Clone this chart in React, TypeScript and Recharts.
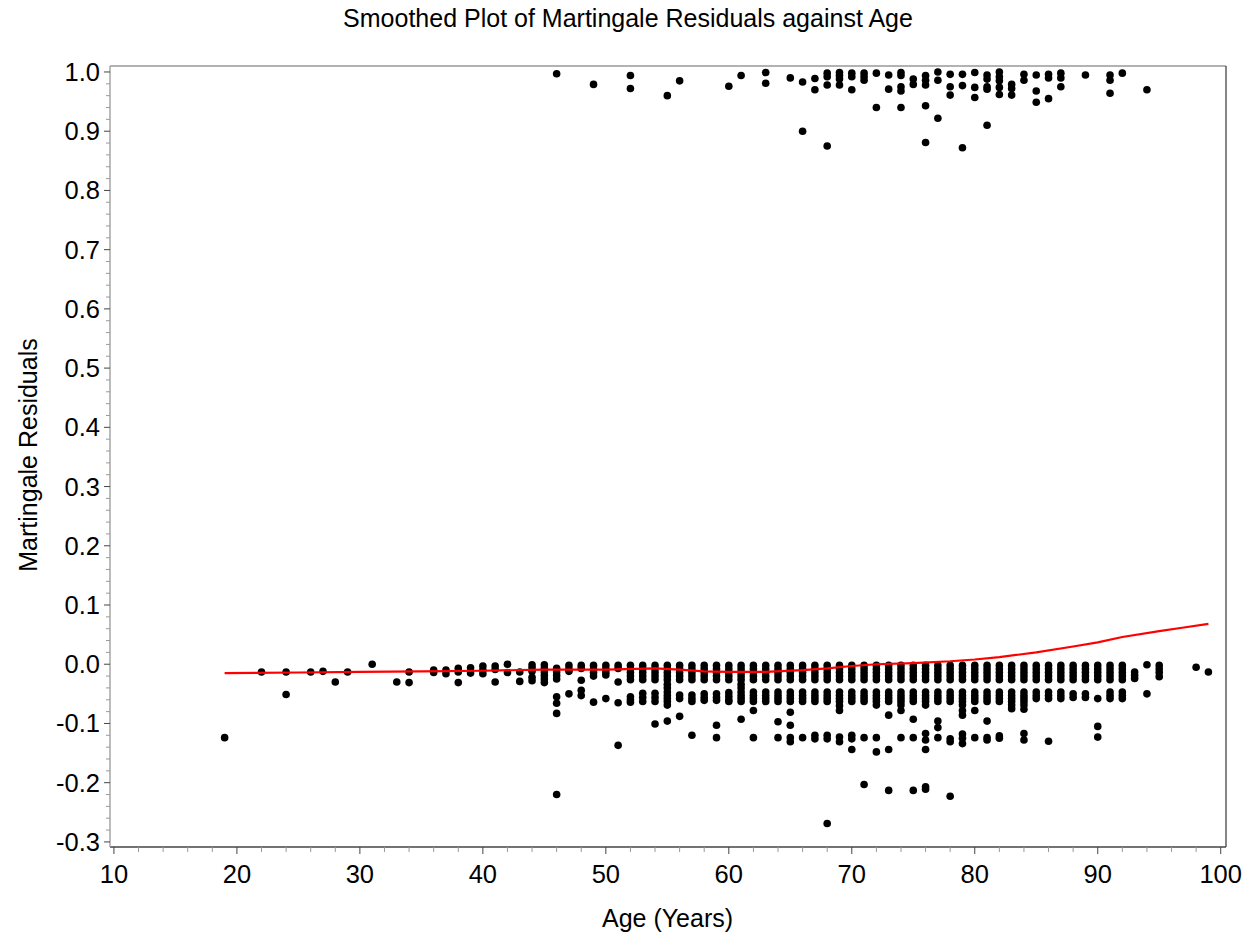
import React from 'react';
import { ScatterChart, Scatter, XAxis, YAxis } from 'recharts';

// ---- data ----
const DENSE_TOP = [-0.002, -0.008, -0.014, -0.020, -0.026];
const DENSE_MID = [-0.047, -0.053, -0.058, -0.063];
const DENSE_BRIDGE = [-0.034, -0.040];

// residuals near zero / negative, by age
const lowerBand: [number, number[]][] = [
  [19, [-0.124]],
  [22, [-0.013]],
  [24, [-0.013, -0.051]],
  [26, [-0.013]],
  [27, [-0.012]],
  [28, [-0.030]],
  [29, [-0.013]],
  [31, [0.0]],
  [33, [-0.030]],
  [34, [-0.013, -0.031]],
  [36, [-0.010, -0.014]],
  [37, [-0.010, -0.016]],
  [38, [-0.007, -0.013, -0.031]],
  [39, [-0.006, -0.015]],
  [40, [-0.003, -0.010, -0.016]],
  [41, [-0.003, -0.009, -0.030]],
  [42, [0.0, -0.014]],
  [43, [-0.013, -0.029]],
  [44, [-0.001, -0.006, -0.012, -0.022, -0.028]],
  [45, [-0.001, -0.007, -0.013, -0.019, -0.025, -0.031]],
  [46, [-0.007, -0.013, -0.019, -0.025, -0.055, -0.066, -0.083, -0.220]],
  [47, [-0.002, -0.008, -0.012, -0.050]],
  [48, [-0.002, -0.007, -0.027, -0.044, -0.053]],
  [49, [-0.002, -0.008, -0.014, -0.020, -0.064]],
  [50, [-0.002, -0.008, -0.013, -0.018, -0.058]],
  [51, [-0.002, -0.007, -0.030, -0.065, -0.137]],
  [52, [...DENSE_TOP, -0.055, -0.060, -0.064]],
  [53, [...DENSE_TOP, -0.049, -0.056, -0.063]],
  [54, [...DENSE_TOP, -0.049, -0.056, -0.063, -0.101]],
  [55, [...DENSE_TOP, ...DENSE_BRIDGE, ...DENSE_MID, -0.069, -0.096]],
  [56, [...DENSE_TOP, -0.052, -0.058, -0.088]],
  [57, [...DENSE_TOP, -0.052, -0.058, -0.063, -0.120]],
  [58, [...DENSE_TOP, -0.050, -0.056, -0.061]],
  [59, [...DENSE_TOP, -0.050, -0.056, -0.061, -0.103, -0.124]],
  [60, [...DENSE_TOP, -0.048, -0.054, -0.060, -0.063]],
  [61, [...DENSE_TOP, ...DENSE_BRIDGE, ...DENSE_MID, -0.093]],
  [62, [...DENSE_TOP, ...DENSE_MID, -0.078, -0.124]],
  [63, [...DENSE_TOP, ...DENSE_MID]],
  [64, [...DENSE_TOP, ...DENSE_MID, -0.097, -0.124]],
  [65, [...DENSE_TOP, ...DENSE_MID, -0.081, -0.103, -0.124, -0.131]],
  [66, [...DENSE_TOP, ...DENSE_MID, -0.124]],
  [67, [...DENSE_TOP, ...DENSE_MID, -0.120, -0.126]],
  [68, [...DENSE_TOP, ...DENSE_MID, -0.120, -0.126, -0.269]],
  [69, [...DENSE_TOP, ...DENSE_MID, -0.070, -0.078, -0.123, -0.131]],
  [70, [...DENSE_TOP, ...DENSE_MID, -0.120, -0.126, -0.144]],
  [71, [...DENSE_TOP, ...DENSE_MID, -0.124, -0.203]],
  [72, [...DENSE_TOP, ...DENSE_MID, -0.069, -0.124, -0.148]],
  [73, [...DENSE_TOP, ...DENSE_MID, -0.086, -0.144, -0.213]],
  [74, [...DENSE_TOP, ...DENSE_MID, -0.069, -0.078, -0.124]],
  [75, [...DENSE_TOP, ...DENSE_MID, -0.093, -0.124, -0.213]],
  [76, [...DENSE_TOP, ...DENSE_MID, -0.069, -0.117, -0.128, -0.144, -0.207, -0.211]],
  [77, [...DENSE_TOP, ...DENSE_MID, -0.096, -0.107, -0.124]],
  [78, [...DENSE_TOP, ...DENSE_MID, -0.126, -0.131, -0.223]],
  [79, [...DENSE_TOP, ...DENSE_MID, -0.069, -0.078, -0.086, -0.118, -0.125, -0.134]],
  [80, [...DENSE_TOP, ...DENSE_MID, -0.078, -0.124]],
  [81, [...DENSE_TOP, ...DENSE_MID, -0.096, -0.124, -0.128]],
  [82, [...DENSE_TOP, ...DENSE_MID, -0.121, -0.125]],
  [83, [...DENSE_TOP, ...DENSE_MID, -0.069, -0.075]],
  [84, [...DENSE_TOP, ...DENSE_MID, -0.069, -0.076, -0.117, -0.128]],
  [85, [...DENSE_TOP, -0.047, -0.053, -0.058]],
  [86, [...DENSE_TOP, -0.047, -0.053, -0.058, -0.130]],
  [87, [...DENSE_TOP, -0.047, -0.053, -0.058]],
  [88, [...DENSE_TOP, -0.050, -0.056]],
  [89, [...DENSE_TOP, -0.050, -0.056]],
  [90, [...DENSE_TOP, -0.058, -0.105, -0.123]],
  [91, [...DENSE_TOP, -0.047, -0.053, -0.058]],
  [92, [...DENSE_TOP, -0.047, -0.053, -0.058]],
  [93, [-0.013, -0.019, -0.024]],
  [94, [-0.001, -0.050]],
  [95, [-0.002, -0.008, -0.014, -0.021]],
  [98, [-0.005]],
  [99, [-0.013]],
];

// residuals near one, by age
const upperBand: [number, number[]][] = [
  [46, [0.997]],
  [49, [0.979]],
  [52, [0.994, 0.972]],
  [55, [0.960]],
  [56, [0.985]],
  [60, [0.976]],
  [61, [0.994]],
  [63, [0.999, 0.981]],
  [65, [0.990]],
  [66, [0.983, 0.900]],
  [67, [0.989, 0.970]],
  [68, [0.998, 0.992, 0.978, 0.875]],
  [69, [0.999, 0.994, 0.988, 0.978]],
  [70, [0.998, 0.992, 0.970]],
  [71, [0.998, 0.992, 0.986]],
  [72, [0.998, 0.940]],
  [73, [0.995, 0.971]],
  [74, [0.999, 0.994, 0.975, 0.968, 0.940]],
  [75, [0.988, 0.979]],
  [76, [0.994, 0.986, 0.978, 0.943, 0.881]],
  [77, [1.0, 0.986, 0.922]],
  [78, [0.996, 0.975, 0.961]],
  [79, [0.996, 0.977, 0.872]],
  [80, [0.999, 0.974, 0.957]],
  [81, [0.995, 0.988, 0.975, 0.971, 0.910]],
  [82, [1.0, 0.992, 0.985, 0.974, 0.962]],
  [83, [0.979, 0.972, 0.961]],
  [84, [0.996, 0.986]],
  [85, [0.995, 0.968, 0.949]],
  [86, [0.996, 0.990, 0.955]],
  [87, [0.998, 0.990, 0.975]],
  [89, [0.995]],
  [91, [0.995, 0.986, 0.964]],
  [92, [0.998]],
  [94, [0.970]],
];

// loess smooth (age, fitted residual)
const smoothAges = [19, 25, 30, 35, 40, 45, 50, 54, 56, 58, 60, 63, 66, 68, 70, 72, 75, 78, 80, 82, 85, 88, 90, 92, 95, 97, 99];
const smoothValues = [-0.015, -0.014, -0.013, -0.012, -0.011, -0.009, -0.009, -0.007, -0.009, -0.012, -0.013, -0.013, -0.010, -0.007, -0.003, 0.0, 0.002, 0.005, 0.008, 0.012, 0.020, 0.030, 0.037, 0.046, 0.056, 0.062, 0.068];

const xTickValues = [10, 12, 14, 16, 18, 20, 22, 24, 26, 28, 30, 32, 34, 36, 38, 40, 42, 44, 46, 48, 50, 52, 54, 56, 58, 60, 62, 64, 66, 68, 70, 72, 74, 76, 78, 80, 82, 84, 86, 88, 90, 92, 94, 96, 98, 100];
const yTickHundredths = [-30, -28, -26, -24, -22, -20, -18, -16, -14, -12, -10, -8, -6, -4, -2, 0, 2, 4, 6, 8, 10, 12, 14, 16, 18, 20, 22, 24, 26, 28, 30, 32, 34, 36, 38, 40, 42, 44, 46, 48, 50, 52, 54, 56, 58, 60, 62, 64, 66, 68, 70, 72, 74, 76, 78, 80, 82, 84, 86, 88, 90, 92, 94, 96, 98, 100];

const TITLE = 'Smoothed Plot of Martingale Residuals against Age';
const X_LABEL = 'Age (Years)';
const Y_LABEL = 'Martingale Residuals';

// ---- derived tables ----
const points = [...lowerBand, ...upperBand].flatMap(([age, rs]) => rs.map((r) => ({ x: age, y: r })));
const smoothLine = smoothAges.map((a, i) => ({ x: a, y: smoothValues[i] }));
const yTicks = yTickHundredths.map((h) => h / 100);

const FONT = '"Liberation Sans", Arial, Helvetica, sans-serif';
const TICK_FONT = 25.5;

const XTick = (props: any) => {
  const { x, y, payload } = props;
  const v = Math.round(payload.value);
  const major = v % 10 === 0;
  return (
    <g>
      <line x1={x} x2={x} y1={y} y2={y + (major ? 7 : 5)} stroke={major ? '#444' : '#999'} strokeWidth={1} />
      {major && (
        <text x={x} y={y + 36} textAnchor="middle" fontSize={TICK_FONT} fontFamily={FONT} fill="#000">
          {v}
        </text>
      )}
    </g>
  );
};

const YTick = (props: any) => {
  const { x, y, payload } = props;
  const h = Math.round(payload.value * 100);
  const major = h % 10 === 0;
  return (
    <g>
      <line x1={x - (major ? 6 : 4)} x2={x} y1={y} y2={y} stroke={major ? '#444' : '#999'} strokeWidth={1} />
      {major && (
        <text x={x - 10} y={y + 9} textAnchor="end" fontSize={TICK_FONT} fontFamily={FONT} fill="#000">
          {(h / 100).toFixed(1)}
        </text>
      )}
    </g>
  );
};

const Dot = (props: any) => <circle cx={props.cx} cy={props.cy} r={3.8} fill="#000" />;
const NoDot = () => <g />;

export default function App() {
  return (
    <div style={{ position: 'absolute', left: 0, top: 0, width: 1249, height: 937, background: '#fff', fontFamily: FONT }}>
      <ScatterChart width={1249} height={937} margin={{ top: 65, right: 22, bottom: 89, left: 109 }}>
        <XAxis
          type="number"
          dataKey="x"
          domain={[9.68, 100.43]}
          allowDataOverflow
          ticks={xTickValues}
          interval={0}
          tick={XTick}
          tickLine={false}
          tickSize={0}
          tickMargin={0}
          height={1}
          axisLine={{ stroke: '#444', strokeWidth: 1.3 }}
        />
        <YAxis
          type="number"
          dataKey="y"
          domain={[-0.3086, 1.0101]}
          allowDataOverflow
          ticks={yTicks}
          interval={0}
          tick={YTick}
          tickLine={false}
          tickSize={0}
          tickMargin={0}
          width={1}
          axisLine={{ stroke: '#999', strokeWidth: 1.3 }}
        />
        <XAxis
          xAxisId="top"
          orientation="top"
          type="number"
          domain={[0, 1]}
          height={1}
          tick={false}
          tickLine={false}
          axisLine={{ stroke: '#999', strokeWidth: 1.3 }}
        />
        <YAxis
          yAxisId="right"
          orientation="right"
          type="number"
          domain={[0, 1]}
          width={1}
          tick={false}
          tickLine={false}
          axisLine={{ stroke: '#444', strokeWidth: 1.3 }}
        />
        <Scatter data={points} shape={Dot} isAnimationActive={false} />
        <Scatter
          data={smoothLine}
          line={{ stroke: '#ff0000', strokeWidth: 2.2 }}
          lineType="joint"
          shape={NoDot}
          isAnimationActive={false}
        />
      </ScatterChart>
      <svg width={1249} height={937} style={{ position: 'absolute', left: 0, top: 0, pointerEvents: 'none' }}>
        <text x={628} y={27} textAnchor="middle" fontSize={25} fontFamily={FONT} fill="#000">
          {TITLE}
        </text>
        <text x={667.5} y={926.5} textAnchor="middle" fontSize={25} fontFamily={FONT} fill="#000">
          {X_LABEL}
        </text>
        <text
          x={0}
          y={0}
          transform="translate(36.5,455) rotate(-90)"
          textAnchor="middle"
          fontSize={25}
          fontFamily={FONT}
          fill="#000"
        >
          {Y_LABEL}
        </text>
      </svg>
    </div>
  );
}
